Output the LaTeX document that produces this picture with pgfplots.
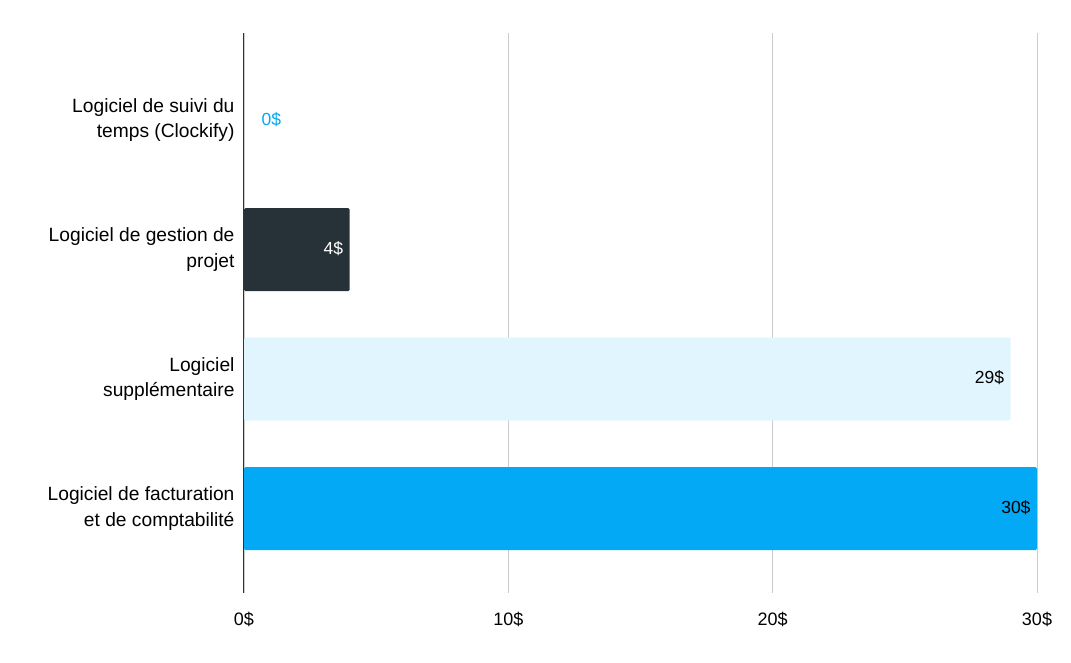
\documentclass[border=0pt]{standalone}
\usepackage{pgfplots}
\pgfplotsset{compat=1.18}
\usepackage{fontspec}
\setmainfont{Liberation Sans}
\definecolor{cdark}{HTML}{263238}
\definecolor{clight}{HTML}{E1F5FE}
\definecolor{cblue}{HTML}{03A9F4}
\definecolor{cgrid}{HTML}{CCCCCC}
\begin{document}
\begin{tikzpicture}
\begin{axis}[
  scale only axis,
  width=793pt, height=560pt,
  xbar, bar width=83pt, bar shift=0pt,
  xmin=0, xmax=30,
  ymin=-0.672, ymax=3.652,
  y dir=reverse,
  axis x line*=bottom, axis y line*=left,
  axis line style={draw=none},
  xtick={0,10,20,30},
  xticklabels={0\$,10\$,20\$,30\$},
  ytick={0,1,2,3},
  yticklabels={{Logiciel de suivi du\\temps (Clockify)},{Logiciel de gestion de\\projet},{Logiciel\\supplémentaire},{Logiciel de facturation\\et de comptabilité}},
  yticklabel style={align=right, font=\fontsize{19.2}{25.5}\selectfont, xshift=-6pt},
  xticklabel style={font=\fontsize{18}{21}\selectfont, yshift=-16pt},
  major tick length=0pt,
  xmajorgrids, ymajorgrids=false, grid style={cgrid, line width=0.9pt},
  every node near coord/.append style={font=\fontsize{17.5}{19}\selectfont},
  clip=false,
]
\addplot[fill=none, draw=none, nodes near coords={0\$}, every node near coord/.append style={color=cblue, anchor=west, xshift=14pt}] coordinates {(0,0)};
\addplot[fill=cdark, draw=none, rounded corners=1.5pt, nodes near coords={4\$}, every node near coord/.append style={color=white, anchor=east, xshift=-3pt, yshift=1pt}] coordinates {(4,1)};
\addplot[fill=clight, draw=none, rounded corners=1.5pt, nodes near coords={29\$}, every node near coord/.append style={color=black, anchor=east, xshift=-3pt, yshift=1pt}] coordinates {(29,2)};
\addplot[fill=cblue, draw=none, rounded corners=1.5pt, nodes near coords={30\$}, every node near coord/.append style={color=black, anchor=east, xshift=-3pt, yshift=1pt}] coordinates {(30,3)};
\draw[color=black!80, line width=1pt] (axis cs:0,-0.672) -- (axis cs:0,3.652);
\end{axis}
\path (current axis.south west) ++(-244pt,-70pt) rectangle ++(1071pt,663pt);
\end{tikzpicture}
\end{document}
